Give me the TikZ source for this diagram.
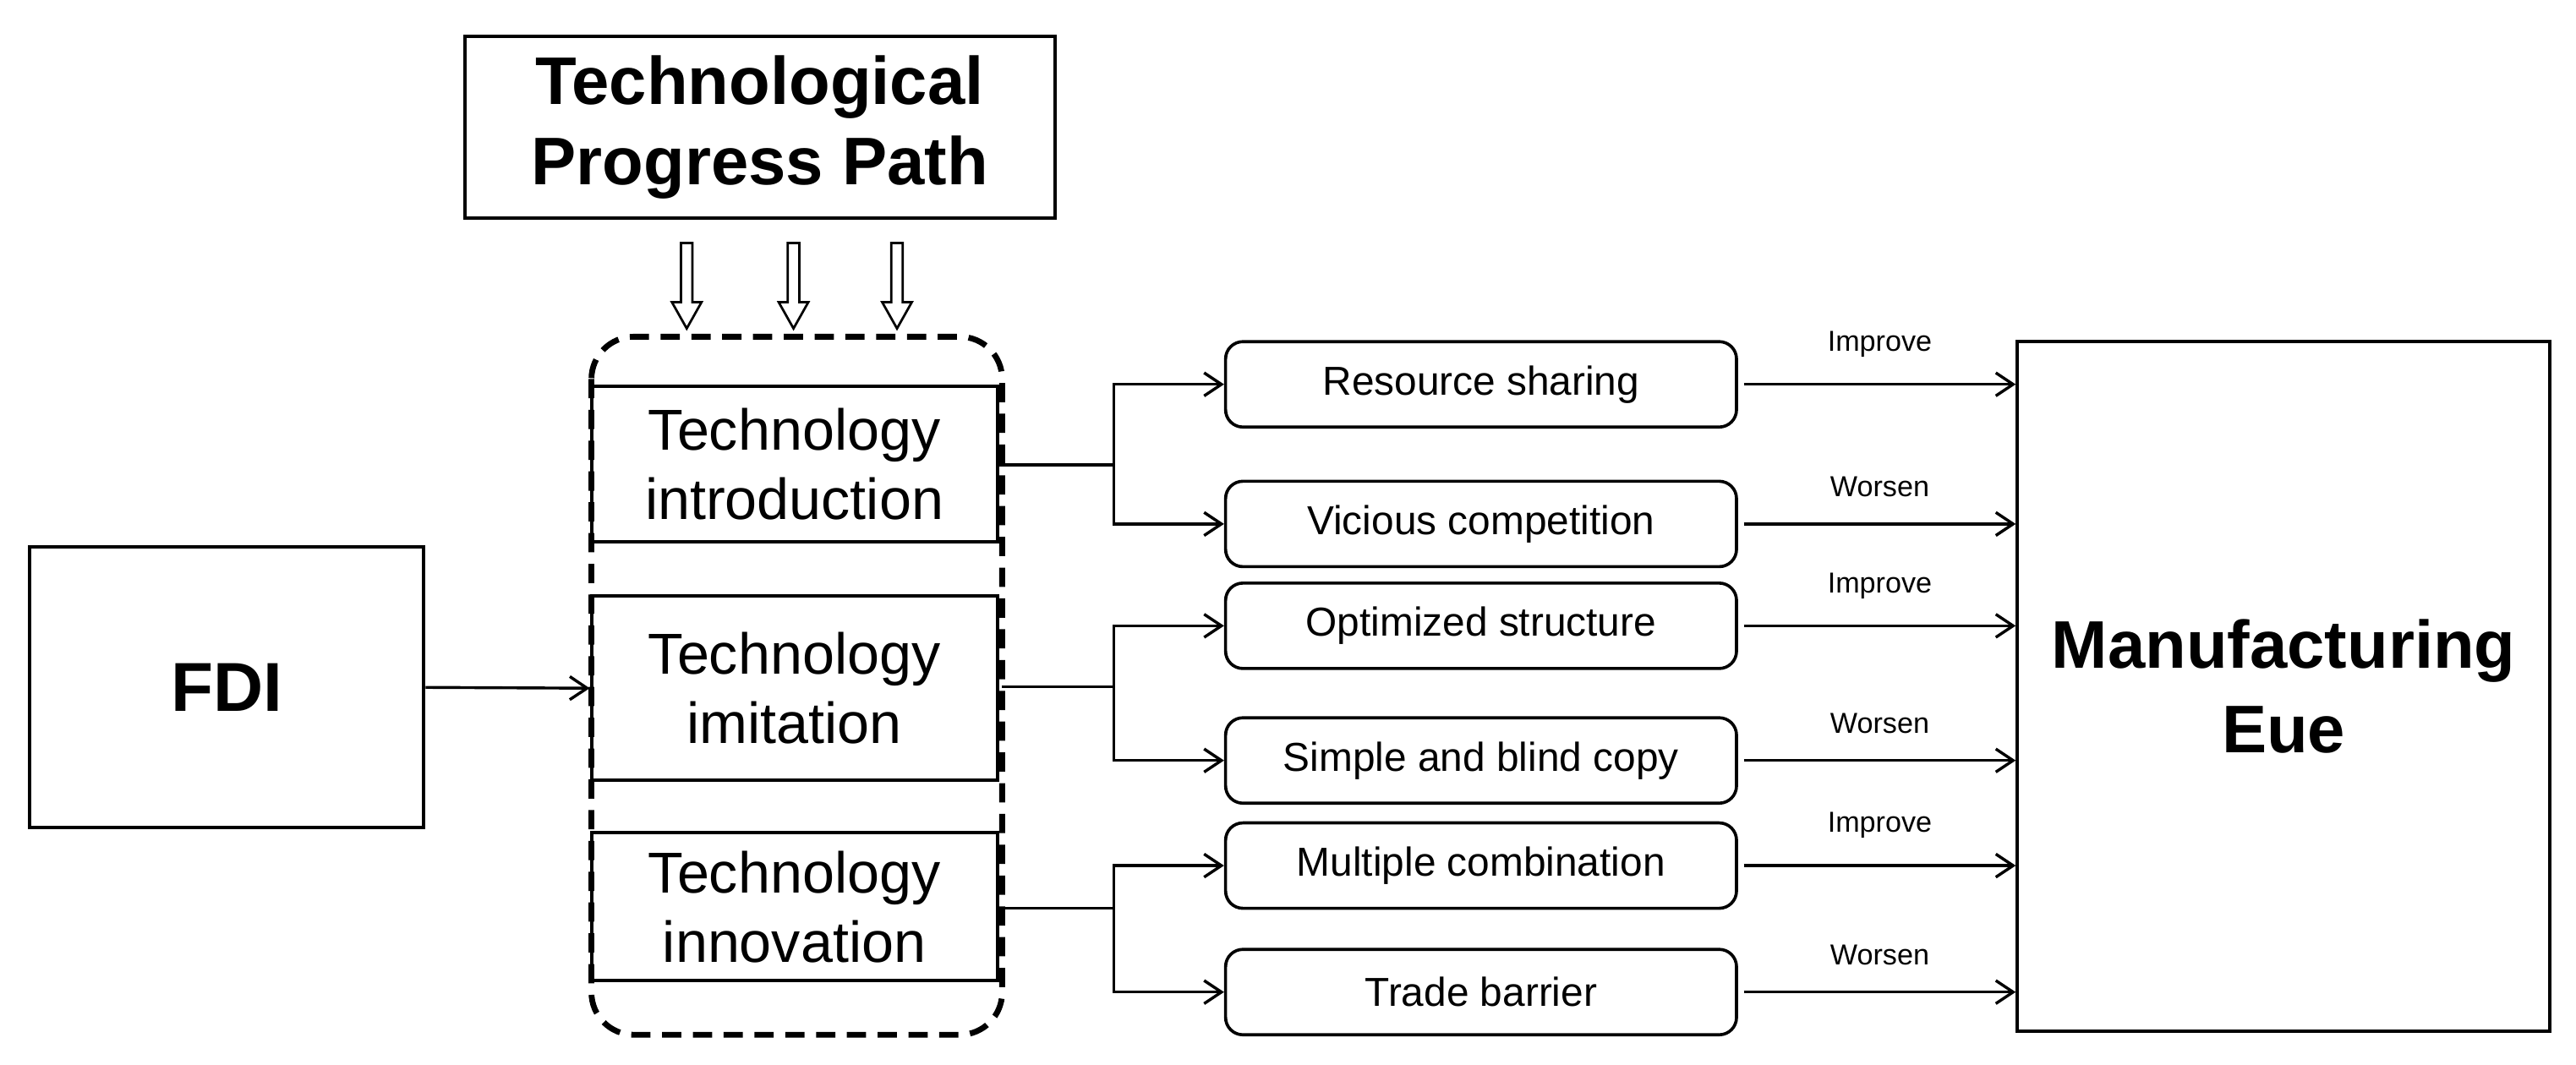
\documentclass[tikz,border=0pt]{standalone}
\usepackage{fontspec}
\setmainfont{Liberation Sans}
\usetikzlibrary{arrows.meta}
\begin{document}
\begin{tikzpicture}[x=0.03cm,y=-0.03cm,
 box/.style={draw,line width=1.8pt,inner sep=0pt},
 rbox/.style={draw,line width=1.6pt,rounded corners=9pt,minimum width=311*0.03cm,minimum height=52*0.03cm,font=\fontsize{21}{24}\selectfont},
 ar/.style={line width=1.5pt,-{Straight Barb[length=9pt,width=12pt]}},
 ln/.style={line width=1.5pt},
 lab/.style={font=\fontsize{15}{18}\selectfont},
 big/.style={font=\fontsize{30}{36}\selectfont,align=center}]
\useasboundingbox (0,0) rectangle (1568,648);
\node[box,minimum width=359*0.03cm,minimum height=111*0.03cm,align=center,font=\fontsize{35}{42}\selectfont\bfseries] (tpp) at (462.5,77.5) {Technological\\Progress Path};
\foreach \x/\n in {418/a1,483/a2,546/a3}{
 \coordinate (\n s) at (\x,148); \coordinate (\n e) at (\x,200);
 \draw[line width=1.2pt] (\x-3.5,148) -- (\x-3.5,184) -- (\x-9,184) -- (\x,200) -- (\x+9,184) -- (\x+3.5,184) -- (\x+3.5,148) -- cycle;}
\draw[line width=3pt,dash pattern=on 10pt off 6pt,rounded corners=22pt] (360,205) rectangle (610,630);
\node[box,minimum width=247*0.03cm,minimum height=95*0.03cm,big] (intro) at (483.5,282.5) {Technology\\introduction};
\node[box,minimum width=247*0.03cm,minimum height=112*0.03cm,big] (imit) at (483.5,419) {Technology\\imitation};
\node[box,minimum width=247*0.03cm,minimum height=90*0.03cm,big] (inno) at (483.5,552) {Technology\\innovation};
\node[box,minimum width=240*0.03cm,minimum height=171*0.03cm,font=\fontsize{36}{42}\selectfont\bfseries] (fdi) at (138,418.5) {FDI};
\node[box,minimum width=324*0.03cm,minimum height=420*0.03cm,align=center,font=\fontsize{35}{44}\selectfont\bfseries] (me) at (1390,418) {Manufacturing\\Eue};
\draw[ar] (fdi.east) -- (imit.west);
\node[rbox] (r1) at (901.5,234) {Resource sharing};
\node[rbox] (r2) at (901.5,319) {Vicious competition};
\node[rbox] (r3) at (901.5,381) {Optimized structure};
\node[rbox] (r4) at (901.5,463) {Simple and blind copy};
\node[rbox] (r5) at (901.5,527) {Multiple combination};
\node[rbox] (r6) at (901.5,604) {Trade barrier};
\coordinate (b1) at (678,283); \coordinate (b2) at (678,418); \coordinate (b3) at (678,553);
\draw[ln] (intro.east|-b1) -- (b1);
\draw[ln] (610,418) -- (b2);
\draw[ln] (610,553) -- (b3);
\draw[ar] (b1) |- (r1.west); \draw[ar] (b1) |- (r2.west);
\draw[ar] (b2) |- (r3.west); \draw[ar] (b2) |- (r4.west);
\draw[ar] (b3) |- (r5.west); \draw[ar] (b3) |- (r6.west);
\foreach \r/\t in {r1/Improve,r2/Worsen,r3/Improve,r4/Worsen,r5/Improve,r6/Worsen}{
 \draw[ar] ([xshift=3pt]\r.east) -- (\r.east-|me.west) node[lab,pos=0.5,above=10pt] {\t};}
\end{tikzpicture}
\end{document}
